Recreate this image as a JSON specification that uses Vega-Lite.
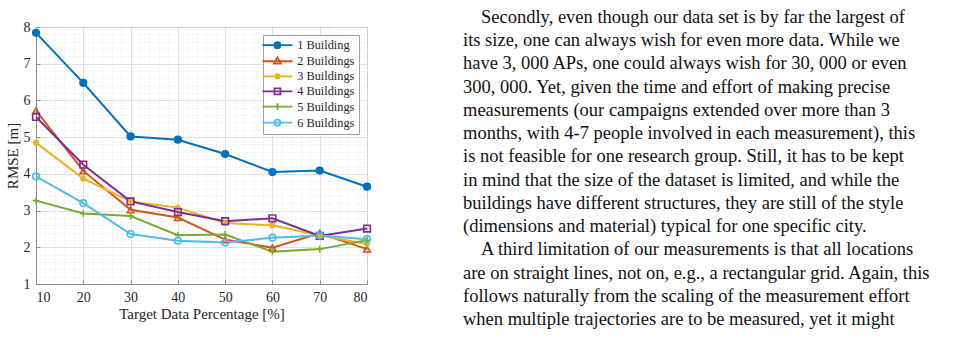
{
  "$schema": "https://vega.github.io/schema/vega-lite/v6.json",
  "autosize": {"type": "none"},
  "padding": {"left": 36, "top": 27, "right": 612, "bottom": 54},
  "width": 331,
  "height": 257,
  "background": "white",
  "config": {
    "view": {"stroke": "#8c8c8c", "strokeWidth": 1},
    "font": "Liberation Serif",
    "axis": {"labelFont": "Liberation Serif", "titleFont": "Liberation Serif", "labelColor": "#262626", "titleColor": "#262626", "titleFontWeight": "normal"},
    "legend": {"labelFont": "Liberation Serif"}
  },
  "layer": [
    {
      "data": {"values": [
        {"series": "1 Building", "pct": 10, "rmse": 7.84},
        {"series": "1 Building", "pct": 20, "rmse": 6.48},
        {"series": "1 Building", "pct": 30, "rmse": 5.02},
        {"series": "1 Building", "pct": 40, "rmse": 4.93},
        {"series": "1 Building", "pct": 50, "rmse": 4.54},
        {"series": "1 Building", "pct": 60, "rmse": 4.05},
        {"series": "1 Building", "pct": 70, "rmse": 4.09},
        {"series": "1 Building", "pct": 80, "rmse": 3.65},
        {"series": "2 Buildings", "pct": 10, "rmse": 5.72},
        {"series": "2 Buildings", "pct": 20, "rmse": 4.08},
        {"series": "2 Buildings", "pct": 30, "rmse": 3.02},
        {"series": "2 Buildings", "pct": 40, "rmse": 2.81},
        {"series": "2 Buildings", "pct": 50, "rmse": 2.21},
        {"series": "2 Buildings", "pct": 60, "rmse": 1.99},
        {"series": "2 Buildings", "pct": 70, "rmse": 2.38},
        {"series": "2 Buildings", "pct": 80, "rmse": 1.95},
        {"series": "3 Buildings", "pct": 10, "rmse": 4.85},
        {"series": "3 Buildings", "pct": 20, "rmse": 3.87},
        {"series": "3 Buildings", "pct": 30, "rmse": 3.25},
        {"series": "3 Buildings", "pct": 40, "rmse": 3.08},
        {"series": "3 Buildings", "pct": 50, "rmse": 2.66},
        {"series": "3 Buildings", "pct": 60, "rmse": 2.60},
        {"series": "3 Buildings", "pct": 70, "rmse": 2.32},
        {"series": "3 Buildings", "pct": 80, "rmse": 2.09},
        {"series": "4 Buildings", "pct": 10, "rmse": 5.55},
        {"series": "4 Buildings", "pct": 20, "rmse": 4.25},
        {"series": "4 Buildings", "pct": 30, "rmse": 3.25},
        {"series": "4 Buildings", "pct": 40, "rmse": 2.96},
        {"series": "4 Buildings", "pct": 50, "rmse": 2.71},
        {"series": "4 Buildings", "pct": 60, "rmse": 2.79},
        {"series": "4 Buildings", "pct": 70, "rmse": 2.31},
        {"series": "4 Buildings", "pct": 80, "rmse": 2.51},
        {"series": "5 Buildings", "pct": 10, "rmse": 3.27},
        {"series": "5 Buildings", "pct": 20, "rmse": 2.92},
        {"series": "5 Buildings", "pct": 30, "rmse": 2.85},
        {"series": "5 Buildings", "pct": 40, "rmse": 2.33},
        {"series": "5 Buildings", "pct": 50, "rmse": 2.35},
        {"series": "5 Buildings", "pct": 60, "rmse": 1.88},
        {"series": "5 Buildings", "pct": 70, "rmse": 1.95},
        {"series": "5 Buildings", "pct": 80, "rmse": 2.19},
        {"series": "6 Buildings", "pct": 10, "rmse": 3.93},
        {"series": "6 Buildings", "pct": 20, "rmse": 3.20},
        {"series": "6 Buildings", "pct": 30, "rmse": 2.36},
        {"series": "6 Buildings", "pct": 40, "rmse": 2.18},
        {"series": "6 Buildings", "pct": 50, "rmse": 2.13},
        {"series": "6 Buildings", "pct": 60, "rmse": 2.26},
        {"series": "6 Buildings", "pct": 70, "rmse": 2.32},
        {"series": "6 Buildings", "pct": 80, "rmse": 2.22}
      ]},
      "encoding": {
        "x": {
          "field": "pct", "type": "quantitative",
          "scale": {"domain": [10, 80], "nice": false, "zero": false},
          "axis": {
            "title": "Target Data Percentage [%]",
            "values": [10,12,14,16,18,20,22,24,26,28,30,32,34,36,38,40,42,44,46,48,50,52,54,56,58,60,62,64,66,68,70,72,74,76,78,80],
            "labelExpr": "datum.value % 10 === 0 ? format(datum.value, 'd') : ''",
            "labelOverlap": false,
            "labelFontSize": 14,
            "titleFontSize": 15,
            "labelPadding": 10,
            "titlePadding": 2,
            "domainColor": "#8c8c8c",
            "tickColor": "#8c8c8c",
            "tickSize": -4,
            "tickOpacity": {"condition": {"test": "datum.value % 10 === 0", "value": 1}, "value": 0},
            "grid": true,
            "gridDash": {"condition": {"test": "datum.value % 10 === 0", "value": [2, 0]}, "value": [1, 2]},
            "gridColor": {"condition": {"test": "datum.value % 10 === 0", "value": "#dcdcdc"}, "value": "#e6e6e6"}
          }
        },
        "y": {
          "field": "rmse", "type": "quantitative",
          "scale": {"domain": [1, 8], "nice": false, "zero": false},
          "axis": {
            "title": "RMSE [m]",
            "values": [1,1.2,1.4,1.6,1.8,2,2.2,2.4,2.6,2.8,3,3.2,3.4,3.6,3.8,4,4.2,4.4,4.6,4.8,5,5.2,5.4,5.6,5.8,6,6.2,6.4,6.6,6.8,7,7.2,7.4,7.6,7.8,8],
            "labelExpr": "datum.value % 1 === 0 ? format(datum.value, 'd') : ''",
            "labelOverlap": false,
            "labelFontSize": 14,
            "titleFontSize": 15,
            "labelPadding": 10,
            "titlePadding": 3,
            "domainColor": "#8c8c8c",
            "tickColor": "#8c8c8c",
            "tickSize": -4,
            "tickOpacity": {"condition": {"test": "datum.value % 1 === 0", "value": 1}, "value": 0},
            "grid": true,
            "gridDash": {"condition": {"test": "datum.value % 1 === 0", "value": [2, 0]}, "value": [1, 2]},
            "gridColor": {"condition": {"test": "datum.value % 1 === 0", "value": "#dcdcdc"}, "value": "#e6e6e6"}
          }
        }
      },
      "layer": [
        {
          "mark": {"type": "line", "strokeWidth": 2},
          "encoding": {
            "color": {
              "field": "series", "type": "nominal",
              "scale": {
                "domain": ["1 Building", "2 Buildings", "3 Buildings", "4 Buildings", "5 Buildings", "6 Buildings"],
                "range": ["#0072BD", "#D95319", "#EDB120", "#7E2F8E", "#77AC30", "#4DBEEE"]
              },
              "legend": null
            }
          }
        },
        {
          "mark": {"type": "point", "filled": false, "strokeWidth": 1.6, "opacity": 1, "size": 44},
          "encoding": {
            "color": {
              "field": "series", "type": "nominal",
              "scale": {
                "domain": ["1 Building", "2 Buildings", "3 Buildings", "4 Buildings", "5 Buildings", "6 Buildings"],
                "range": ["#0072BD", "#D95319", "#EDB120", "#7E2F8E", "#77AC30", "#4DBEEE"]
              },
              "legend": null
            },
            "shape": {
              "field": "series", "type": "nominal",
              "scale": {
                "domain": ["1 Building", "2 Buildings", "3 Buildings", "4 Buildings", "5 Buildings", "6 Buildings"],
                "range": ["circle", "triangle-up", "M-1,0H1M0,-1V1M-0.7,-0.7L0.7,0.7M-0.7,0.7L0.7,-0.7", "square", "M-1,0H1M0,-1V1", "circle"]
              },
              "legend": null
            },
            "fill": {
              "field": "series", "type": "nominal",
              "scale": {
                "domain": ["1 Building", "2 Buildings", "3 Buildings", "4 Buildings", "5 Buildings", "6 Buildings"],
                "range": ["#0072BD", "transparent", "transparent", "transparent", "transparent", "transparent"]
              },
              "legend": null
            }
          }
        },
        {
          "transform": [{"filter": "false"}],
          "mark": {"type": "point", "filled": false, "strokeWidth": 1.8, "size": 36},
          "encoding": {
            "color": {
              "field": "series", "type": "nominal",
              "scale": {
                "domain": ["1 Building", "2 Buildings", "3 Buildings", "4 Buildings", "5 Buildings", "6 Buildings"],
                "range": ["#0072BD", "#D95319", "#EDB120", "#7E2F8E", "#77AC30", "#4DBEEE"]
              },
              "legend": {
                "title": null,
                "orient": "top-right",
                "offset": 8,
                "fillColor": "white",
                "strokeColor": "#a0a0a0",
                "padding": 4,
                "labelFontSize": 12.3,
                "labelColor": "#262626",
                "rowPadding": 1.1,
                "symbolSize": 36,
                "symbolOffset": 4.3,
                "labelOffset": 13.7,
                "symbolStrokeWidth": 1.8,
                "symbolOpacity": 1
              }
            },
            "shape": {
              "field": "series", "type": "nominal",
              "scale": {
                "domain": ["1 Building", "2 Buildings", "3 Buildings", "4 Buildings", "5 Buildings", "6 Buildings"],
                "range": [
                  "M-5,0H5M1,0A1,1,0,1,1,-1,0A1,1,0,1,1,1,0",
                  "M-5,0H5M0,-1.3L1.15,0.8L-1.15,0.8Z",
                  "M-5,0H5M0,-1V1M-0.75,-0.75L0.75,0.75M-0.75,0.75L0.75,-0.75",
                  "M-5,0H5M-1,-1H1V1H-1Z",
                  "M-5,0H5M0,-1.1V1.1",
                  "M-5,0H5M1,0A1,1,0,1,1,-1,0A1,1,0,1,1,1,0"
                ]
              }
            },
            "fill": {
              "field": "series", "type": "nominal",
              "scale": {
                "domain": ["1 Building", "2 Buildings", "3 Buildings", "4 Buildings", "5 Buildings", "6 Buildings"],
                "range": ["#0072BD", "transparent", "transparent", "transparent", "transparent", "transparent"]
              }
            }
          }
        }
      ],
      "resolve": {"scale": {"color": "independent", "shape": "independent", "fill": "independent"}}
    },
    {
      "data": {"values": [
        {"line": 1, "indent": 1, "text": "Secondly, even though our data set is by far the largest of"},
        {"line": 2, "indent": 0, "text": "its size, one can always wish for even more data. While we"},
        {"line": 3, "indent": 0, "text": "have 3, 000 APs, one could always wish for 30, 000 or even"},
        {"line": 4, "indent": 0, "text": "300, 000. Yet, given the time and effort of making precise"},
        {"line": 5, "indent": 0, "text": "measurements (our campaigns extended over more than 3"},
        {"line": 6, "indent": 0, "text": "months, with 4-7 people involved in each measurement), this"},
        {"line": 7, "indent": 0, "text": "is not feasible for one research group. Still, it has to be kept"},
        {"line": 8, "indent": 0, "text": "in mind that the size of the dataset is limited, and while the"},
        {"line": 9, "indent": 0, "text": "buildings have different structures, they are still of the style"},
        {"line": 10, "indent": 0, "text": "(dimensions and material) typical for one specific city."},
        {"line": 11, "indent": 1, "text": "A third limitation of our measurements is that all locations"},
        {"line": 12, "indent": 0, "text": "are on straight lines, not on, e.g., a rectangular grid. Again, this"},
        {"line": 13, "indent": 0, "text": "follows naturally from the scaling of the measurement effort"},
        {"line": 14, "indent": 0, "text": "when multiple trajectories are to be measured, yet it might"}
      ]},
      "mark": {"type": "text", "align": "left", "baseline": "middle", "font": "Liberation Serif", "fontSize": 18.5, "color": "#111111"},
      "encoding": {
        "x": {"field": "indent", "type": "quantitative", "scale": {"domain": [0, 1], "range": [427, 445], "nice": false, "zero": false}, "axis": null},
        "y": {"field": "line", "type": "quantitative", "scale": {"domain": [1, 14], "range": [-10, 292], "nice": false, "zero": false}, "axis": null},
        "text": {"field": "text", "type": "nominal"}
      }
    }
  ],
  "resolve": {"scale": {"x": "independent", "y": "independent"}}
}
